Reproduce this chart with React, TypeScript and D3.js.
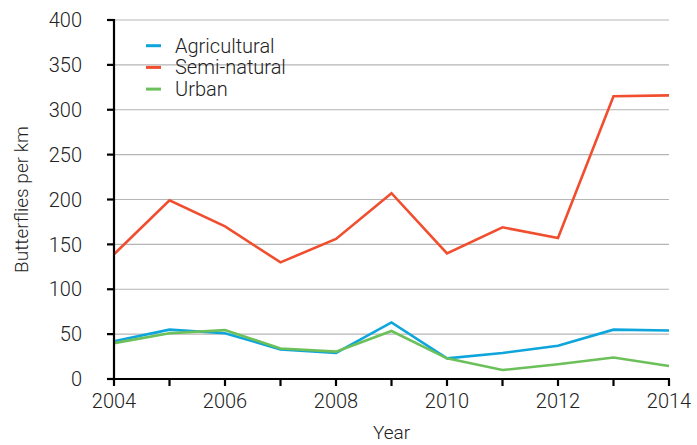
import React from "react";
import * as d3 from "d3";

const years = [2004, 2005, 2006, 2007, 2008, 2009, 2010, 2011, 2012, 2013, 2014];
const agricultural = [42, 55, 51, 33, 29, 63, 23, 29, 37, 55, 54];
const seminatural = [139, 199, 170, 130, 156, 207, 140, 169, 157, 315, 316];
const urban = [40, 51, 54.5, 34, 30.5, 53.5, 23, 10, 16.5, 24, 14.5];
const yTicks = [0, 50, 100, 150, 200, 250, 300, 350, 400];
const xTicks = [2004, 2006, 2008, 2010, 2012, 2014];
const seriesNames = ["Agricultural", "Semi-natural", "Urban"];
const seriesColors = ["#0ea5dc", "#f04e2f", "#6cc05a"];

const W = 697;
const H = 445;
const FONT = "Roboto, 'Liberation Sans', sans-serif";

export default function App() {
  const x = d3.scaleLinear().domain([2004, 2014]).range([114, 669]);
  const y = d3.scaleLinear().domain([0, 400]).range([379, 20]);
  const line = d3
    .line<number>()
    .x((_, i) => x(years[i]))
    .y((d) => y(d));
  const series = [agricultural, seminatural, urban];

  return (
    <svg
      width={W}
      height={H}
      style={{ position: "absolute", left: 0, top: 0, background: "#fff" }}
      fontFamily={FONT}
      fontWeight={300}
    >
      {/* gridlines */}
      {yTicks
        .filter((t) => t > 0)
        .map((t) => (
          <line key={t} x1={x(2004)} x2={x(2014)} y1={y(t)} y2={y(t)} stroke="#b5b5b5" strokeWidth={1.2} />
        ))}
      {/* series */}
      {series.map((s, i) => (
        <path key={i} d={line(s) || ""} fill="none" stroke={seriesColors[i]} strokeWidth={2.6} strokeLinejoin="miter" />
      ))}
      {/* y axis */}
      <line x1={x(2004)} x2={x(2004)} y1={y(400) - 1} y2={y(0) + 1} stroke="#000" strokeWidth={2.2} />
      {yTicks.map((t) => (
        <g key={t}>
          <line x1={x(2004) - 7} x2={x(2004)} y1={y(t)} y2={y(t)} stroke="#000" strokeWidth={2.2} />
          <text x={82} y={y(t)} dy="0.36em" textAnchor="end" fontSize={20} fill="#222">
            {t}
          </text>
        </g>
      ))}
      {/* x axis */}
      <line x1={x(2004) - 1} x2={x(2014) + 1} y1={y(0)} y2={y(0)} stroke="#000" strokeWidth={2.2} />
      {years.map((yr) => (
        <line key={yr} x1={x(yr)} x2={x(yr)} y1={y(0)} y2={y(0) + 7} stroke="#000" strokeWidth={2.2} />
      ))}
      {xTicks.map((yr) => (
        <text key={yr} x={x(yr)} y={408} textAnchor="middle" fontSize={20} fill="#222">
          {yr}
        </text>
      ))}
      {/* axis titles */}
      <text x={391.5} y={439} textAnchor="middle" fontSize={19} fill="#222">
        Year
      </text>
      <text
        transform={`translate(28,${(y(0) + y(400)) / 2}) rotate(-90)`}
        textAnchor="middle"
        fontSize={19}
        fill="#222"
      >
        Butterflies per km
      </text>
      {/* legend */}
      {seriesNames.map((n, i) => (
        <g key={n}>
          <line x1={146} x2={161} y1={45.7 + i * 21.7} y2={45.7 + i * 21.7} stroke={seriesColors[i]} strokeWidth={3} />
          <text x={175} y={52.7 + i * 21.7} fontSize={20} fill="#222">
            {n}
          </text>
        </g>
      ))}
    </svg>
  );
}
